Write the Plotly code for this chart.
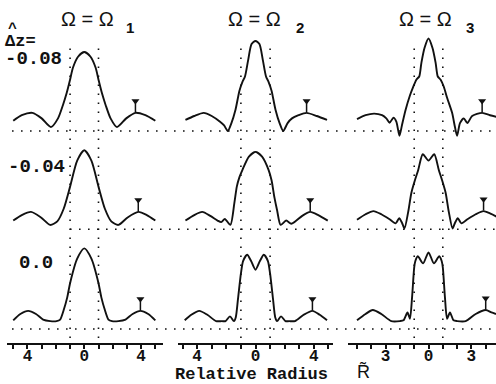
import plotly.graph_objects as go

# ---------------- data (relative radius R, normalised intensity I) ----------------
# row 1 : dz = -0.08
R11 = [-5.0, -4.4, -3.65, -3.0, -2.35, -1.85, -1.5, -1.24, -1.0, -0.8, -0.44, 0.0, 0.44, 0.8, 1.0, 1.24, 1.5, 1.85, 2.3, 2.95, 3.6, 4.3, 5.0]
I11 = [0.13, 0.20, 0.23, 0.16, 0.05, 0.16, 0.33, 0.48, 0.65, 0.80, 0.94, 1.00, 0.94, 0.80, 0.65, 0.48, 0.33, 0.16, 0.05, 0.16, 0.23, 0.20, 0.13]

R12 = [-4.8, -4.2, -3.55, -3.0, -2.45, -2.15, -1.9, -1.65, -1.37, -1.1, -0.9, -0.72, -0.5, -0.27, 0.0, 0.27, 0.5, 0.72, 0.9, 1.1, 1.37, 1.65, 1.9, 2.2, 2.5, 2.95, 3.5, 4.2, 4.9]
I12 = [0.14, 0.19, 0.23, 0.19, 0.12, 0.07, 0.00, 0.10, 0.27, 0.51, 0.62, 0.69, 0.90, 1.10, 1.14, 1.10, 0.90, 0.69, 0.62, 0.51, 0.27, 0.10, 0.00, 0.10, 0.16, 0.20, 0.23, 0.19, 0.14]

R13 = [-5.0, -4.4, -3.8, -3.25, -2.95, -2.72, -2.45, -2.25, -2.03, -1.85, -1.6, -1.3, -1.07, -0.85, -0.65, -0.5, -0.28, 0.0, 0.28, 0.5, 0.65, 0.85, 1.07, 1.3, 1.65, 1.85, 2.0, 2.2, 2.47, 2.72, 3.05, 3.75, 4.3, 4.75]
I13 = [0.15, 0.20, 0.22, 0.20, 0.16, 0.105, 0.17, 0.12, -0.06, 0.08, 0.27, 0.45, 0.56, 0.65, 0.69, 0.86, 1.05, 1.17, 1.05, 0.86, 0.69, 0.65, 0.56, 0.42, 0.23, 0.05, -0.06, 0.10, 0.16, 0.10, 0.19, 0.23, 0.20, 0.18]

# row 2 : dz = -0.04
R21 = [-5.0, -4.4, -3.75, -3.05, -2.4, -1.9, -1.45, -1.0, -0.5, 0.0, 0.5, 1.0, 1.45, 1.9, 2.4, 3.05, 3.8, 4.4, 5.0]
I21 = [0.11, 0.18, 0.22, 0.15, 0.055, 0.10, 0.26, 0.54, 0.87, 1.00, 0.87, 0.54, 0.26, 0.10, 0.055, 0.15, 0.22, 0.18, 0.11]

R22 = [-4.8, -4.2, -3.65, -3.1, -2.6, -2.35, -2.1, -1.72, -1.45, -1.28, -1.1, -0.9, -0.45, 0.0, 0.45, 0.9, 1.1, 1.3, 1.48, 1.72, 2.1, 2.45, 2.8, 3.2, 3.75, 4.3, 4.95]
I22 = [0.11, 0.18, 0.22, 0.17, 0.11, 0.09, 0.13, 0.055, 0.33, 0.54, 0.66, 0.75, 0.92, 0.98, 0.92, 0.75, 0.62, 0.40, 0.24, 0.055, 0.11, 0.07, 0.11, 0.17, 0.22, 0.18, 0.11]

R23 = [-5.0, -4.4, -3.85, -3.3, -2.75, -2.3, -2.05, -1.85, -1.68, -1.42, -1.2, -0.95, -0.72, -0.4, 0.0, 0.4, 0.72, 0.95, 1.2, 1.42, 1.68, 1.85, 2.05, 2.3, 2.75, 3.3, 3.85, 4.3, 4.75]
I23 = [0.12, 0.19, 0.23, 0.19, 0.13, 0.075, 0.14, 0.08, 0.01, 0.22, 0.46, 0.62, 0.75, 0.95, 0.87, 0.95, 0.75, 0.62, 0.46, 0.22, 0.01, 0.08, 0.14, 0.075, 0.13, 0.19, 0.23, 0.20, 0.16]

# row 3 : dz = 0.0
R31 = [-5.0, -4.5, -3.95, -3.4, -2.9, -2.4, -1.95, -1.7, -1.45, -1.2, -1.0, -0.5, 0.0, 0.5, 1.0, 1.2, 1.45, 1.7, 1.95, 2.4, 2.9, 3.4, 3.95, 4.5, 5.0]
I31 = [0.11, 0.19, 0.23, 0.19, 0.12, 0.10, 0.10, 0.12, 0.24, 0.40, 0.58, 0.89, 1.02, 0.89, 0.58, 0.40, 0.24, 0.12, 0.10, 0.10, 0.12, 0.19, 0.23, 0.19, 0.11]

R32 = [-4.85, -4.4, -3.85, -3.3, -2.7, -2.3, -2.05, -1.75, -1.48, -1.35, -1.2, -1.0, -0.85, -0.57, -0.3, 0.0, 0.3, 0.57, 0.85, 1.0, 1.2, 1.35, 1.48, 1.75, 2.05, 2.3, 2.7, 3.3, 3.9, 4.4, 4.9]
I32 = [0.11, 0.18, 0.23, 0.18, 0.10, 0.10, 0.10, 0.16, 0.10, 0.15, 0.38, 0.70, 0.86, 0.94, 0.86, 0.75, 0.86, 0.94, 0.86, 0.70, 0.38, 0.15, 0.10, 0.16, 0.10, 0.10, 0.10, 0.18, 0.23, 0.18, 0.11]

R33 = [-5.0, -4.4, -3.9, -3.3, -2.6, -2.0, -1.75, -1.47, -1.3, -1.15, -1.0, -0.92, -0.75, -0.38, 0.0, 0.38, 0.75, 0.92, 1.0, 1.15, 1.3, 1.5, 1.75, 2.0, 2.6, 3.3, 4.0, 4.4, 4.72]
I33 = [0.11, 0.19, 0.24, 0.19, 0.10, 0.10, 0.11, 0.21, 0.13, 0.40, 0.78, 0.86, 0.92, 0.83, 0.97, 0.83, 0.92, 0.86, 0.78, 0.40, 0.13, 0.21, 0.11, 0.10, 0.10, 0.19, 0.24, 0.21, 0.19]

CURVES = [[(R11, I11), (R12, I12), (R13, I13)],
          [(R21, I21), (R22, I22), (R23, I23)],
          [(R31, I31), (R32, I32), (R33, I33)]]

# arrow markers over the outer ring (R, lobe height)
ARROW_R = [[3.6, 3.5, 3.75], [3.8, 3.75, 3.85], [3.95, 3.9, 4.0]]
ARROW_I = [[0.23, 0.23, 0.23], [0.22, 0.22, 0.23], [0.23, 0.23, 0.24]]

COL_SUB = ["1", "2", "3"]
ROW_LABELS = ["-0.08", "-0.04", "0.0"]
TICKVALS = [[-4, 0, 4], [-4, 0, 4], [-3, 0, 3]]
TICKTEXT = [["4", "0", "4"], ["4", "0", "4"], ["3", "0", "3"]]

# ---------------- layout helpers ----------------
W, H = 496, 384
def px(x):
    return x / W
def py(y):
    return 1 - y / H

INK = "#111111"
MONO = "Liberation Mono"
SANS = "Liberation Sans"

fig = go.Figure()

xnames = ["x", "x2", "x3"]
ynames = ["y", "y2", "y3"]

for r in range(3):
    for c in range(3):
        xs, ys = CURVES[r][c]
        fig.add_trace(go.Scatter(x=xs, y=ys, mode="lines", xaxis=xnames[c], yaxis=ynames[r],
                                 line=dict(color=INK, width=1.9, shape="spline", smoothing=0.7),
                                 hoverinfo="skip", showlegend=False))
        ax_, ay_ = ARROW_R[r][c], ARROW_I[r][c]
        fig.add_trace(go.Scatter(x=[ax_], y=[ay_ + 0.15], mode="markers", xaxis=xnames[c], yaxis=ynames[r],
                                 marker=dict(symbol="triangle-down", size=7, color=INK),
                                 hoverinfo="skip", showlegend=False))
        fig.add_trace(go.Scatter(x=[ax_], y=[ay_ + 0.07], mode="markers", xaxis=xnames[c], yaxis=ynames[r],
                                 marker=dict(symbol="line-ns", size=7, color=INK, line=dict(color=INK, width=1.5)),
                                 hoverinfo="skip", showlegend=False))

# axes
x_domains = [[px(7), px(163)], [px(178), px(333)], [px(348), px(496)]]
x_ranges = [[-5.44, 5.54], [-5.31, 5.31], [-5.63, 4.72]]
y_domains = [[py(145), py(20)], [py(243), py(130)], [py(343), py(236)]]
y_ranges = [[-0.177, 1.405], [-0.174, 1.257], [-0.177, 1.177]]

layout = dict(width=W, height=H, autosize=False, margin=dict(l=0, r=0, t=0, b=0),
              paper_bgcolor="white", plot_bgcolor="rgba(0,0,0,0)", showlegend=False)
for c in range(3):
    key = "xaxis" if c == 0 else "xaxis%d" % (c + 1)
    layout[key] = dict(domain=x_domains[c], range=x_ranges[c], anchor="y3",
                       showline=True, linecolor=INK, linewidth=2, showgrid=False, zeroline=False,
                       ticks="outside", ticklen=4, tickwidth=1.5, tickcolor=INK,
                       tickvals=TICKVALS[c], ticktext=TICKTEXT[c],
                       minor=dict(ticks="outside", ticklen=4, tickwidth=1.5, tickcolor=INK, dtick=1, tick0=0),
                       tickfont=dict(family=MONO, size=16, color=INK, weight="bold"),
                       ticklabelstandoff=-7, fixedrange=True)
for r in range(3):
    key = "yaxis" if r == 0 else "yaxis%d" % (r + 1)
    layout[key] = dict(domain=y_domains[r], range=y_ranges[r], visible=False, fixedrange=True,
                       anchor="x")
fig.update_layout(**layout)

# dotted guide lines
DOT = "1.6px,7.4px"
for c in range(3):
    for xv in (-1, 1):
        fig.add_shape(type="line", xref=xnames[c], yref="paper", x0=xv, x1=xv, y0=py(338), y1=py(42),
                      line=dict(color=INK, width=1.6, dash=DOT))
row_x0 = [12, 70, 12]
for r in range(3):
    fig.add_shape(type="line", xref="paper", yref=ynames[r], x0=px(row_x0[r]), x1=1, y0=0, y1=0,
                  line=dict(color=INK, width=1.6, dash=DOT))

# text
ann = []
title_left = [59, 226, 397]
sub_left = [124, 294, 464]
for c in range(3):
    ann.append(dict(text="Ω = Ω", x=px(title_left[c]), y=py(19), xref="paper", yref="paper",
                    xanchor="left", yanchor="middle", showarrow=False,
                    font=dict(family=SANS, size=20, color=INK)))
    ann.append(dict(text=COL_SUB[c], x=px(sub_left[c]), y=py(28), xref="paper", yref="paper",
                    xanchor="left", yanchor="middle", showarrow=False,
                    font=dict(family=SANS, size=15, color=INK, weight="bold")))
ann.append(dict(text="Δz=", x=px(3), y=py(41), xref="paper", yref="paper", xanchor="left", yanchor="middle",
                showarrow=False, font=dict(family=MONO, size=17, color=INK, weight="bold")))
ann.append(dict(text="^", x=px(12), y=py(29), xref="paper", yref="paper", xanchor="center", yanchor="middle",
                showarrow=False, font=dict(family=MONO, size=15, color=INK, weight="bold")))
row_label_pos = [(3, 59), (6, 167), (17, 263)]
for r in range(3):
    ann.append(dict(text=ROW_LABELS[r], x=px(row_label_pos[r][0]), y=py(row_label_pos[r][1]),
                    xref="paper", yref="paper", xanchor="left", yanchor="middle", showarrow=False,
                    font=dict(family=MONO, size=19, color=INK, weight="bold")))
ann.append(dict(text="Relative Radius", x=px(251), y=py(374), xref="paper", yref="paper",
                xanchor="center", yanchor="middle", showarrow=False,
                font=dict(family=MONO, size=17, color=INK, weight="bold")))
ann.append(dict(text="R\u0303", x=px(363), y=py(371), xref="paper", yref="paper", xanchor="center", yanchor="middle",
                showarrow=False, font=dict(family=SANS, size=18, color=INK)))
fig.update_layout(annotations=ann)

fig.write_html("out.html", config={"displayModeBar": False},
               post_script="document.body.style.margin='0';")
